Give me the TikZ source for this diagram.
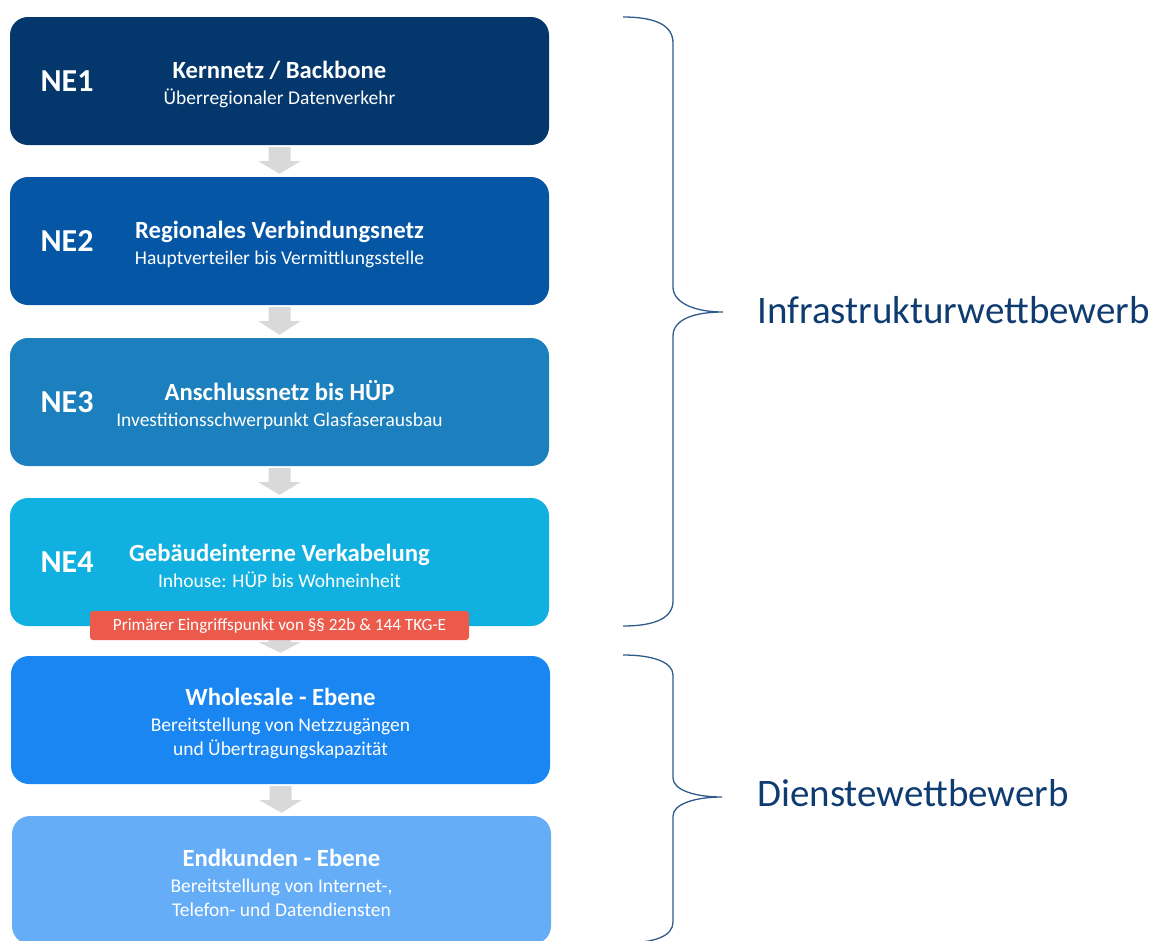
\documentclass[tikz,border=0pt]{standalone}
\usepackage{fontspec}
\setmainfont{Carlito}
\usetikzlibrary{calc}
\definecolor{cNEa}{HTML}{04376B}
\definecolor{cNEb}{HTML}{0557A6}
\definecolor{cNEc}{HTML}{1B80BD}
\definecolor{cNEd}{HTML}{10B0E0}
\definecolor{cWS}{HTML}{1A86F2}
\definecolor{cEK}{HTML}{65AEF7}
\definecolor{cRed}{HTML}{EB5A4B}
\definecolor{cGray}{HTML}{D9D9D9}
\definecolor{cBrace}{HTML}{2F5A8C}
\definecolor{cLbl}{HTML}{0E3C70}
\tikzset{
  layerbox/.style={rounded corners=18pt, minimum width=539pt, minimum height=128pt,
    inner sep=0pt},
  boxtext/.style={inner sep=0pt, text=white, align=center, font=\fontsize{19.5}{24}\selectfont},
  nelabel/.style={text=white, font=\fontsize{32}{36}\selectfont\bfseries, inner sep=0pt},
  bracepath/.style={draw=cBrace, line width=1.3pt},
  biglabel/.style={text=cLbl, font=\fontsize{39}{44}\selectfont, anchor=west, inner sep=0pt},
  redtag/.style={fill=cRed, rounded corners=3pt, text=white, minimum width=379pt,
    minimum height=29pt, inner sep=0pt, font=\fontsize{17.2}{20}\selectfont},
}
\newcommand{\ttl}[1]{{\fontsize{24.7}{28}\selectfont\bfseries #1}}
\newcommand{\dnarrow}[2]{%
  \fill[cGray] ($(#1.south)+(-11,2)$) -- ($(#1.south)+(11,2)$) -- ($(#1.south)+(11,16)$)
    -- ($(#1.south)+(21,16)$) -- ($(#2.north)+(0,-3)$) -- ($(#1.south)+(-21,16)$)
    -- ($(#1.south)+(-11,16)$) -- cycle;}
\begin{document}
\begin{tikzpicture}[x=1pt,y=-1pt]
\useasboundingbox (0,0) rectangle (1155,940);
\clip (0,0) rectangle (1155,940);
\node[layerbox, fill=cNEa] (b1) at (279.5,81) {};
\node[layerbox, fill=cNEb] (b2) at (279.5,241) {};
\node[layerbox, fill=cNEc] (b3) at (279.5,402) {};
\node[layerbox, fill=cNEd] (b4) at (279.5,562) {};
\node[layerbox, fill=cWS] (b5) at (280.5,720) {};
\node[layerbox, fill=cEK] (b6) at (281.5,880) {};
\node[boxtext] (t1) at ($(b1.center)+(0,3.5)$) {\ttl{Kernnetz / Backbone}\\[2pt]Überregionaler Datenverkehr};
\node[boxtext] (t2) at ($(b2.center)+(0,3.5)$) {\ttl{Regionales Verbindungsnetz}\\[2pt]Hauptverteiler bis Vermittlungsstelle};
\node[boxtext] (t3) at ($(b3.center)+(0,3.5)$) {\ttl{Anschlussnetz bis HÜP}\\[2pt]Investitionsschwerpunkt Glasfaserausbau};
\node[boxtext] (t4) at ($(b4.center)+(0,3.5)$) {\ttl{Gebäudeinterne Verkabelung}\\[2pt]Inhouse: HÜP bis Wohneinheit};
\node[boxtext] (t5) at ($(b5.center)+(0,3)$) {\ttl{Wholesale - Ebene}\\[2pt]Bereitstellung von Netzzugängen\\und Übertragungskapazität};
\node[boxtext] (t6) at ($(b6.center)+(0,3)$) {\ttl{Endkunden - Ebene}\\[2pt]Bereitstellung von Internet-,\\Telefon- und Datendiensten};
\node[nelabel] (n1) at (67,81.5) {NE1};
\node[nelabel] (n2) at (67,241.5) {NE2};
\node[nelabel] (n3) at (67,402.5) {NE3};
\node[nelabel] (n4) at (67,562.5) {NE4};
\dnarrow{b1}{b2}
\dnarrow{b2}{b3}
\dnarrow{b3}{b4}
\dnarrow{b4}{b5}
\dnarrow{b5}{b6}
\node[redtag] (tag) at (279.5,625.5) {Primärer Eingriffspunkt von §§ 22b \& 144 TKG-E};
\draw[bracepath] (623,17) .. controls (655,17) and (673,25) .. (673,43) -- (673,287)
  .. controls (673,303) and (695,312) .. (723,312)
  .. controls (695,312) and (673,319) .. (673,336) -- (673,601)
  .. controls (673,618) and (655,626) .. (623,626);
\draw[bracepath] (623,655) .. controls (655,655) and (673,663) .. (673,675) -- (673,778)
  .. controls (673,790) and (695,797) .. (722,797)
  .. controls (695,797) and (673,804) .. (673,816) -- (673,922)
  .. controls (673,936) and (655,943) .. (623,943);
\node[biglabel] (infra) at (757,310) {Infrastrukturwettbewerb};
\node[biglabel] (dienst) at (757,793) {Dienstewettbewerb};
\end{tikzpicture}
\end{document}
